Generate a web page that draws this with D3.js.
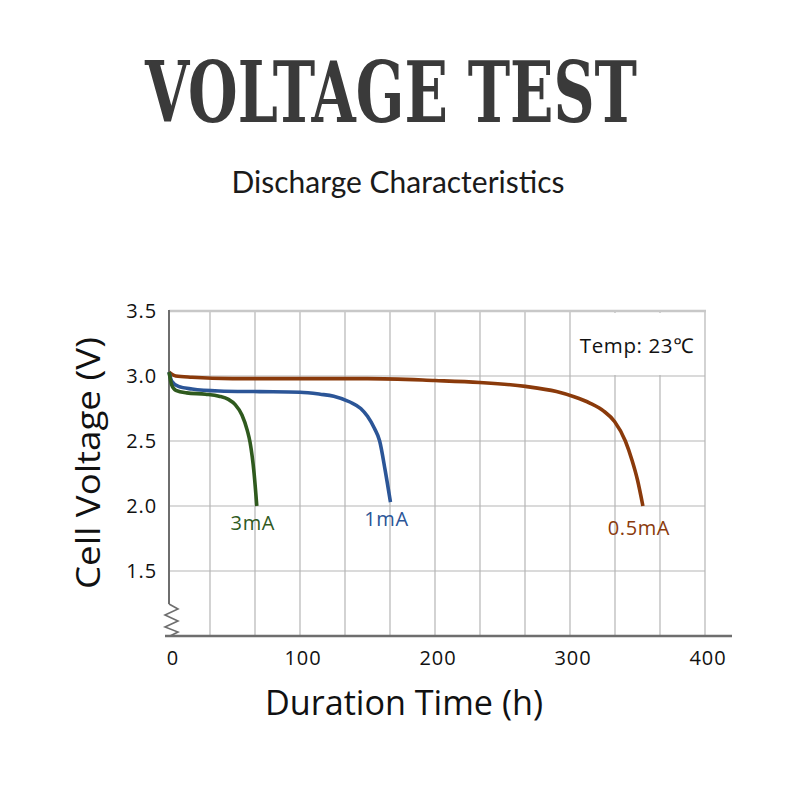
<!DOCTYPE html>
<html><head><meta charset="utf-8">
<script src="https://cdn.jsdelivr.net/npm/d3@7"></script>
<style>body{margin:0;background:#fff}svg{display:block}</style>
</head><body>
<script>
const title = "VOLTAGE TEST";
const subtitle = "Discharge Characteristics";
const xTicks = [0, 100, 200, 300, 400];
const yTicks = [1.5, 2.0, 2.5, 3.0, 3.5];
const seriesNames = ["3mA", "1mA", "0.5mA"];
const seriesColors = ["#2f5a1e", "#2b5597", "#8a3a0b"];
const hours3mA  = [3, 5, 8, 16, 30, 40, 47, 52, 57, 61, 63, 66, 68];
const volts3mA  = [3.03, 2.93, 2.89, 2.87, 2.86, 2.845, 2.82, 2.78, 2.70, 2.58, 2.49, 2.25, 2.00];
const hours1mA  = [3, 5, 10, 20, 40, 70, 100, 115, 125, 137, 145, 150, 155, 159, 163, 167];
const volts1mA  = [3.03, 2.96, 2.92, 2.90, 2.885, 2.88, 2.875, 2.86, 2.845, 2.80, 2.75, 2.69, 2.60, 2.50, 2.28, 2.03];
const hours05mA = [3, 8, 20, 50, 100, 150, 200, 233, 267, 290, 303, 315, 325, 333, 341, 346, 350, 354];
const volts05mA = [3.03, 3.00, 2.99, 2.98, 2.98, 2.98, 2.965, 2.95, 2.92, 2.88, 2.84, 2.79, 2.73, 2.65, 2.50, 2.35, 2.20, 2.00];
const tempLabel = "Temp: 23℃";
const xTitle = "Duration Time (h)";
const yTitle = "Cell Voltage (V)";

const W = 800, H = 800;
const svg = d3.select("body").append("svg").attr("width", W).attr("height", H);
const x = d3.scaleLinear().domain([0, 400]).range([165, 705]);
const y = d3.scaleLinear().domain([1, 3.5]).range([636, 311]);
const font = "'Open Sans', 'Noto Sans', sans-serif";

// Titles
svg.append("text").attr("x", 391).attr("y", 122).attr("text-anchor", "middle")
  .attr("font-family", "'DejaVu Serif Condensed', 'DejaVu Serif', serif").attr("font-weight", "bold")
  .attr("font-size", 84).attr("fill", "#3a3a3a")
  .attr("textLength", 492).attr("lengthAdjust", "spacingAndGlyphs").text(title);
svg.append("text").attr("x", 398).attr("y", 193).attr("text-anchor", "middle")
  .attr("font-family", "Lato, 'DejaVu Sans', sans-serif").attr("font-weight", 400)
  .attr("font-size", 30).attr("fill", "#1a1a1a")
  .attr("textLength", 333).attr("lengthAdjust", "spacingAndGlyphs").text(subtitle);

// Grid
const g = svg.append("g");
const vGrid = d3.range(1, 13).map(i => i * 100 / 3);
g.selectAll(".vg").data(vGrid).join("line")
  .attr("x1", d => x(d)).attr("x2", d => x(d))
  .attr("y1", y(3.5)).attr("y2", y(1))
  .attr("stroke", "#b5b5b5").attr("stroke-width", 1.2);
g.selectAll(".hg").data(yTicks.slice(0, 4)).join("line")
  .attr("x1", x(0) + 4).attr("x2", x(400))
  .attr("y1", d => y(d)).attr("y2", d => y(d))
  .attr("stroke", "#b5b5b5").attr("stroke-width", 1.2);
g.append("line").attr("x1", x(0) + 4).attr("x2", x(400) + 1).attr("y1", y(3.5)).attr("y2", y(3.5))
  .attr("stroke", "#c8c8c8").attr("stroke-width", 2.5);

// Temp label box
g.append("rect").attr("x", x(300) + 2).attr("y", y(3.5) + 2)
  .attr("width", x(400) - x(300) - 3).attr("height", y(3.0) - y(3.5) - 3).attr("fill", "#fff");
svg.append("text").attr("x", 637).attr("y", 353).attr("text-anchor", "middle")
  .attr("font-family", font).attr("font-size", 20.5).attr("letter-spacing", 0.6).attr("fill", "#111").text(tempLabel);

// Axes lines
const ax = x(0) + 4;
svg.append("line").attr("x1", ax).attr("x2", ax).attr("y1", y(3.5) - 1).attr("y2", 604)
  .attr("stroke", "#6e6e6e").attr("stroke-width", 2);
svg.append("path").attr("d", `M${ax},604 L${ax+9},609 L${ax-4},615 L${ax+9},621 L${ax-4},627 L${ax+9},632 L${ax+1},636`)
  .attr("fill", "none").attr("stroke", "#6e6e6e").attr("stroke-width", 1.6);
svg.append("line").attr("x1", x(0)).attr("x2", 732).attr("y1", y(1)).attr("y2", y(1))
  .attr("stroke", "#6e6e6e").attr("stroke-width", 2.5);

// Tick labels
svg.selectAll(".yt").data(yTicks).join("text")
  .attr("x", 157).attr("y", d => y(d)).attr("dy", "0.35em").attr("text-anchor", "end")
  .attr("font-family", font).attr("font-size", 20).attr("letter-spacing", 0.9).attr("fill", "#111")
  .text(d => d3.format(".1f")(d));
svg.selectAll(".xt").data(xTicks).join("text")
  .attr("x", d => x(d) + (d === 0 ? 8 : 3)).attr("y", 665).attr("text-anchor", "middle")
  .attr("font-family", font).attr("font-size", 20).attr("letter-spacing", 0.9).attr("fill", "#111")
  .text(d => d);

// Axis titles
svg.append("text").attr("transform", `translate(100,463) rotate(-90)`)
  .attr("text-anchor", "middle").attr("font-family", font).attr("font-size", 33).attr("fill", "#111")
  .attr("textLength", 252).attr("lengthAdjust", "spacingAndGlyphs").text(yTitle);
svg.append("text").attr("x", 404).attr("y", 715).attr("text-anchor", "middle")
  .attr("font-family", font).attr("font-size", 34).attr("fill", "#111")
  .attr("textLength", 278).attr("lengthAdjust", "spacingAndGlyphs").text(xTitle);

// Curves
const line = d3.line().x(d => x(d[0])).y(d => y(d[1])).curve(d3.curveMonotoneX);
const allHours = [hours3mA, hours1mA, hours05mA];
const allVolts = [volts3mA, volts1mA, volts05mA];
[2, 1, 0].forEach(i => {
  const pts = allHours[i].map((h, k) => [h, allVolts[i][k]]);
  svg.append("path").attr("d", line(pts)).attr("fill", "none")
    .attr("stroke", seriesColors[i]).attr("stroke-width", 3.6).attr("stroke-linecap", "butt");
});
// Series labels
const labelDx = [-4, -4, -4];
const labelDy = [24, 24, 29];
seriesNames.forEach((n, i) => {
  const hs = allHours[i], vs = allVolts[i];
  svg.append("text").attr("x", x(hs[hs.length - 1]) + labelDx[i]).attr("y", y(vs[vs.length - 1]) + labelDy[i])
    .attr("text-anchor", "middle").attr("font-family", font).attr("font-size", 20).attr("letter-spacing", 0.6)
    .attr("fill", seriesColors[i]).text(n);
});
</script>
</body></html>
